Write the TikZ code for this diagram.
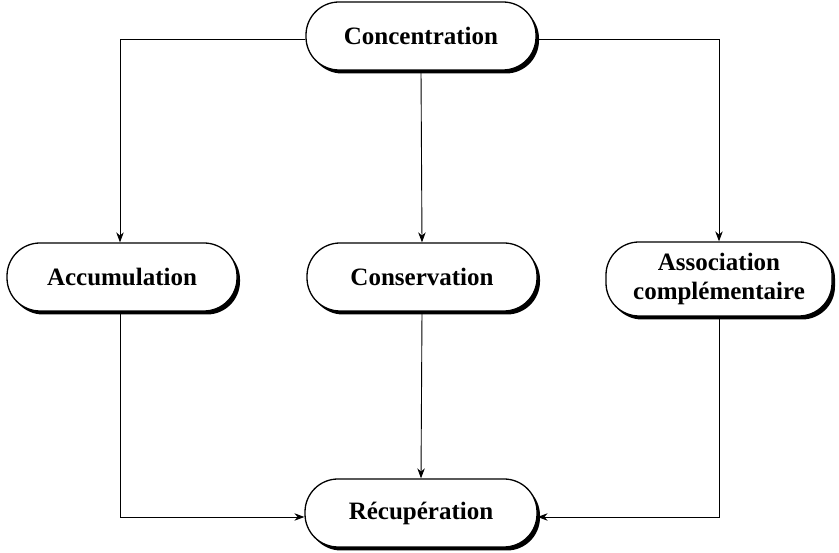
\documentclass[tikz,border=0pt]{standalone}
\usepackage{fontspec}
\setmainfont{Liberation Serif}
\usetikzlibrary{arrows.meta,shadows}
\begin{document}
\begin{tikzpicture}[x=1pt,y=1pt,
  box/.style={draw=black, line width=1.3pt, fill=white, rounded corners=33pt,
    minimum width=230pt, minimum height=68pt, align=center,
    font=\fontsize{25}{29}\selectfont\bfseries,
    drop shadow={shadow xshift=3pt, shadow yshift=-3.5pt, fill=black, opacity=1}},
  conn/.style={draw=black, line width=0.9pt, -{Stealth[length=10pt,width=7.5pt]}}]
\useasboundingbox (0,0) rectangle (839,553);
\node[box] (conc) at (421,517) {Concentration};
\node[box] (accu) at (122,276) {Accumulation};
\node[box] (cons) at (422,276) {Conservation};
\node[box, minimum width=226pt, minimum height=74pt] (asso) at (719,274) {Association\\complémentaire};
\node[box, minimum width=232pt] (recu) at (421,40) {Récupération};
\coordinate (cl) at ([yshift=-3pt]conc.west);
\coordinate (cr) at ([yshift=-3pt]conc.east);
\coordinate (rl) at ([yshift=-4pt]recu.west);
\coordinate (rr) at ([yshift=-4pt]recu.east);
\draw[conn] (cl) -| ([xshift=-2pt]accu.north);
\draw[conn] (cr) -| (asso.north);
\draw[conn] (conc.south) -- (cons.north);
\draw[conn] ([xshift=-2pt]accu.south) |- (rl);
\draw[conn] (asso.south) |- (rr);
\draw[conn] (cons.south) -- (recu.north);
\end{tikzpicture}
\end{document}
